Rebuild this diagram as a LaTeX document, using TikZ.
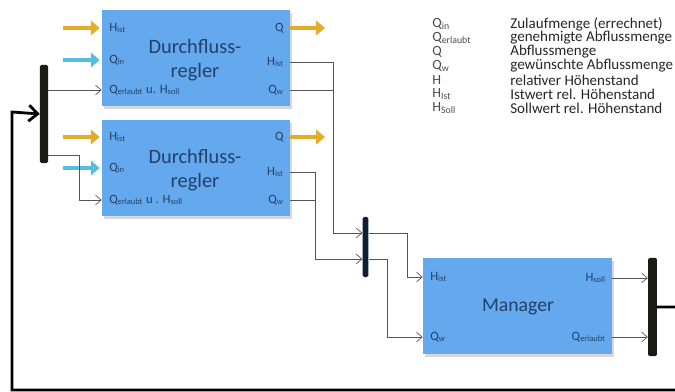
\documentclass[tikz,border=0pt]{standalone}
\usepackage{fontspec}
\setmainfont{Carlito}
\usepackage{xcolor}
\definecolor{regblue}{RGB}{100,168,238}
\definecolor{regtext}{RGB}{35,65,105}
\definecolor{reggold}{RGB}{228,172,40}
\definecolor{regcyan}{RGB}{85,190,225}
\definecolor{reggray}{RGB}{85,85,85}
\definecolor{regbar}{RGB}{28,26,20}
\definecolor{regnavy}{RGB}{15,30,50}
\usepackage{tikz}
\usetikzlibrary{arrows.meta, positioning, shadows}

\begin{document}
\begin{tikzpicture}[x=0.025cm, y=-0.025cm,
  block/.style={fill=regblue, draw=none, minimum width=4.7cm, minimum height=2.4cm, inner sep=0pt,
    drop shadow={shadow xshift=0.5mm, shadow yshift=-0.7mm, fill=black!30}},
  blocktitle/.style={font=\fontsize{14.5}{17}\selectfont, text=regtext, align=center},
  port/.style={font=\fontsize{9}{11}\selectfont, text=regtext, inner sep=0pt},
  bar/.style={fill=regbar, draw=none, rounded corners=1pt, inner sep=0pt, minimum width=0.2cm, minimum height=2.45cm},
  sig/.style={draw=reggray, line width=0.5pt},
  sigarrow/.style={sig, -{Straight Barb[length=1.4mm, width=2.4mm]}},
  feedin/.style={line width=3.2pt, shorten >=0.5mm, -{Triangle[length=2.2mm, width=3.6mm]}},
  backline/.style={draw=black, line width=2pt, -{Straight Barb[length=2.2mm, width=4mm]}},
  legsym/.style={font=\fontsize{10}{11}\selectfont, text=black!70, anchor=west, inner sep=0pt},
  legtext/.style={font=\fontsize{10.7}{12}\selectfont, text=black!85, anchor=west, inner sep=0pt}]
  \useasboundingbox (0,0) rectangle (675,392);

  % Block 1: Durchflussregler (top)
  \node[block] (reg1) at (196,58) {};
  \node[blocktitle] (reg1title) at (195,60) {Durchfluss-\\regler};
  \node[port, anchor=west] (r1hin) at (109,28) {H\textsubscript{ist}};
  \node[port, anchor=west] (r1qin) at (109,60) {Q\textsubscript{in}};
  \node[port, anchor=west] (r1qe) at (109,90) {Q\textsubscript{erlaubt} u. H\textsubscript{soll}};
  \node[port, anchor=east] (r1q) at (284,28) {Q};
  \node[port, anchor=east] (r1ho) at (284,62) {H\textsubscript{ist}};
  \node[port, anchor=east] (r1qw) at (284,90) {Q\textsubscript{w}};

  % Block 2: Durchflussregler (bottom)
  \node[block] (reg2) at (196,168) {};
  \node[blocktitle] (reg2title) at (195,170) {Durchfluss-\\regler};
  \node[port, anchor=west] (r2hin) at (109,137) {H\textsubscript{ist}};
  \node[port, anchor=west] (r2qin) at (109,168) {Q\textsubscript{in}};
  \node[port, anchor=west] (r2qe) at (109,200) {Q\textsubscript{erlaubt} u . H\textsubscript{soll}};
  \node[port, anchor=east] (r2q) at (284,137) {Q};
  \node[port, anchor=east] (r2ho) at (284,172) {H\textsubscript{ist}};
  \node[port, anchor=east] (r2qw) at (284,200) {Q\textsubscript{w}};

  % Manager
  \node[block, minimum width=4.725cm] (mgr) at (517.5,306) {};
  \node[blocktitle, font=\fontsize{14}{17}\selectfont] (mgrtitle) at (518,307) {Manager};
  \node[port, anchor=west] (mhin) at (430,277) {H\textsubscript{ist}};
  \node[port, anchor=west] (mqw) at (430,337) {Q\textsubscript{w}};
  \node[port, anchor=east] (mhsoll) at (606,278) {H\textsubscript{soll}};
  \node[port, anchor=east] (mqe) at (606,337) {Q\textsubscript{erlaubt}};

  % Bars
  \node[bar] (bar1) at (44,114) {};
  \node[bar, fill=regnavy, minimum width=0.14cm, minimum height=1.5cm] (bar2) at (365.5,247) {};
  \node[bar, minimum width=0.22cm] (bar3) at (652.5,307) {};

  % Inputs and outputs of the regulators
  \coordinate (y1) at (63,28);
  \coordinate (c1) at (63,60);
  \coordinate (y2) at (63,137);
  \coordinate (c2) at (63,168);
  \coordinate (q1) at (327,28);
  \coordinate (q2) at (327,137);
  \draw[feedin, reggold] (y1) -- (reg1.west |- y1);
  \draw[feedin, regcyan] (c1) -- (reg1.west |- c1);
  \draw[feedin, reggold] (y2) -- (reg2.west |- y2);
  \draw[feedin, regcyan] (c2) -- (reg2.west |- c2);
  \draw[feedin, reggold] (reg1.east |- q1) -- (q1);
  \draw[feedin, reggold] (reg2.east |- q2) -- (q2);

  % Left bar to the regulators
  \draw[sigarrow] (bar1.east |- r1qe) -- (reg1.west |- r1qe);
  \draw[sigarrow] (bar1.east |- 0,155) -- ++(31,0) |- (reg2.west |- r2qe);

  % Regulators to middle bar
  \draw[sig] (reg1.east |- r1qw) -- ++(43,0);
  \draw[sigarrow] (reg1.east |- r1ho) -- ++(43,0) |- (bar2.west |- 0,233);
  \draw[sig] (reg2.east |- r2qw) -- ++(25,0);
  \draw[sigarrow] (reg2.east |- r2ho) -- ++(25,0) |- (bar2.west |- 0,259);

  % Middle bar to manager
  \draw[sigarrow] (bar2.east |- 0,233) -- ++(39,0) |- (mgr.west |- mhin);
  \draw[sigarrow] (bar2.east |- 0,259) -- ++(19,0) |- (mgr.west |- mqw);

  % Manager to right bar
  \draw[sigarrow] (mgr.east |- mhsoll) -- (bar3.west |- mhsoll);
  \draw[sigarrow] (mgr.east |- mqe) -- (bar3.west |- mqe);

  % Feedback loop
  \draw[backline] (bar3.east) -| (695,390) -| (12,112) -- (bar1.west);

  % Legend
  \foreach \sym/\txt [count=\i from 0] in {Q\textsubscript{in}/Zulaufmenge (errechnet),
      Q\textsubscript{erlaubt}/genehmigte Abflussmenge, Q/Abflussmenge,
      Q\textsubscript{w}/gewünschte Abflussmenge, H/relativer Höhenstand,
      H\textsubscript{Ist}/Istwert rel. Höhenstand, H\textsubscript{Soll}/Sollwert rel. Höhenstand}
  {
    \node[legsym] (sym\i) at (432,{24+14*\i}) {\sym};
    \node[legtext] (txt\i) at (510,{24+14*\i}) {\txt};
  }
\end{tikzpicture}
\end{document}
